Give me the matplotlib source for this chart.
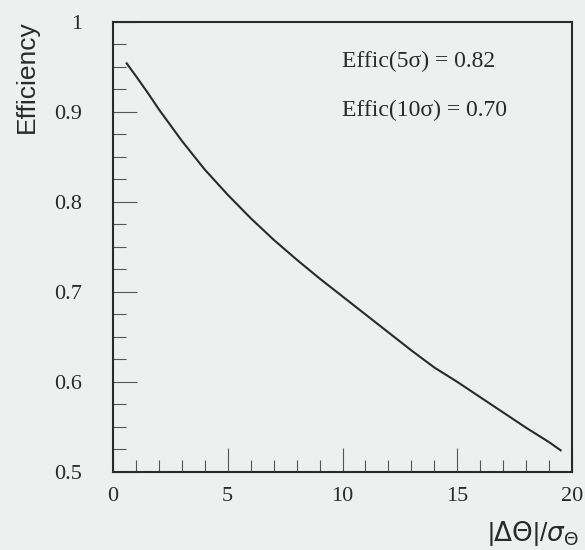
import numpy as np
import matplotlib.pyplot as plt
from matplotlib.ticker import MultipleLocator

# curve
sep = [0.6, 1.0, 1.5, 2.0, 3.0, 4.0, 5.0, 6.0, 7.0, 8.0, 9.0, 10.0,
       11.0, 12.0, 13.0, 14.0, 15.0, 16.0, 17.0, 18.0, 19.0, 19.5]
effic = [0.954, 0.940, 0.922, 0.903, 0.868, 0.836, 0.808, 0.782, 0.758,
         0.736, 0.715, 0.695, 0.675, 0.655, 0.635, 0.616, 0.600, 0.583,
         0.566, 0.549, 0.533, 0.524]
notes = ["Effic(5\u03c3) = 0.82", "Effic(10\u03c3) = 0.70"]
xticks = [0, 5, 10, 15, 20]
xlabels = ['0', '5', '10', '15', '20']
yticks = [0.5, 0.6, 0.7, 0.8, 0.9, 1.0]
ylabels = ['0.5', '0.6', '0.7', '0.8', '0.9', '1']

plt.rcParams['font.family'] = ['Liberation Serif', 'DejaVu Serif']
bg = '#eef0f0'
ink = '#2a2a2a'

fig = plt.figure(figsize=(5.85, 5.5), dpi=100, facecolor=bg)
ax = fig.add_axes([0.193, 0.142, 0.785, 0.818], facecolor=bg)

ax.plot(sep, effic, color=ink, lw=1.5)

ax.set_xlim(0, 20)
ax.set_ylim(0.5, 1.0)
ax.xaxis.set_minor_locator(MultipleLocator(1))
ax.yaxis.set_minor_locator(MultipleLocator(0.025))
ax.set_xticks(xticks, xlabels)
ax.set_yticks(yticks, ylabels)
ax.tick_params(which='both', direction='in', colors='#555555', labelcolor=ink,
               labelsize=16, width=0.8)
ax.tick_params(which='major', length=17)
ax.tick_params(which='minor', length=9)
ax.tick_params(axis='x', pad=11)
ax.tick_params(axis='y', pad=22)
for s in ax.spines.values():
    s.set_color(ink)
    s.set_linewidth(1.5)

ax.text(0.498, 0.913, notes[0], transform=ax.transAxes,
        fontsize=17, color=ink, va='center')
ax.text(0.498, 0.804, notes[1], transform=ax.transAxes,
        fontsize=17, color=ink, va='center')

fig.text(0.046, 0.964, 'Efficiency', rotation=90, ha='center', va='top',
         fontsize=19, color=ink, family=['Liberation Sans', 'DejaVu Sans'])
fig.text(0.99, 0.03, r'|$\Delta\Theta$|/$\sigma_\Theta$', ha='right',
         va='center', fontsize=19, color=ink,
         family=['Liberation Sans', 'DejaVu Sans'])

fig.savefig('out.png', dpi=100, facecolor=bg)
